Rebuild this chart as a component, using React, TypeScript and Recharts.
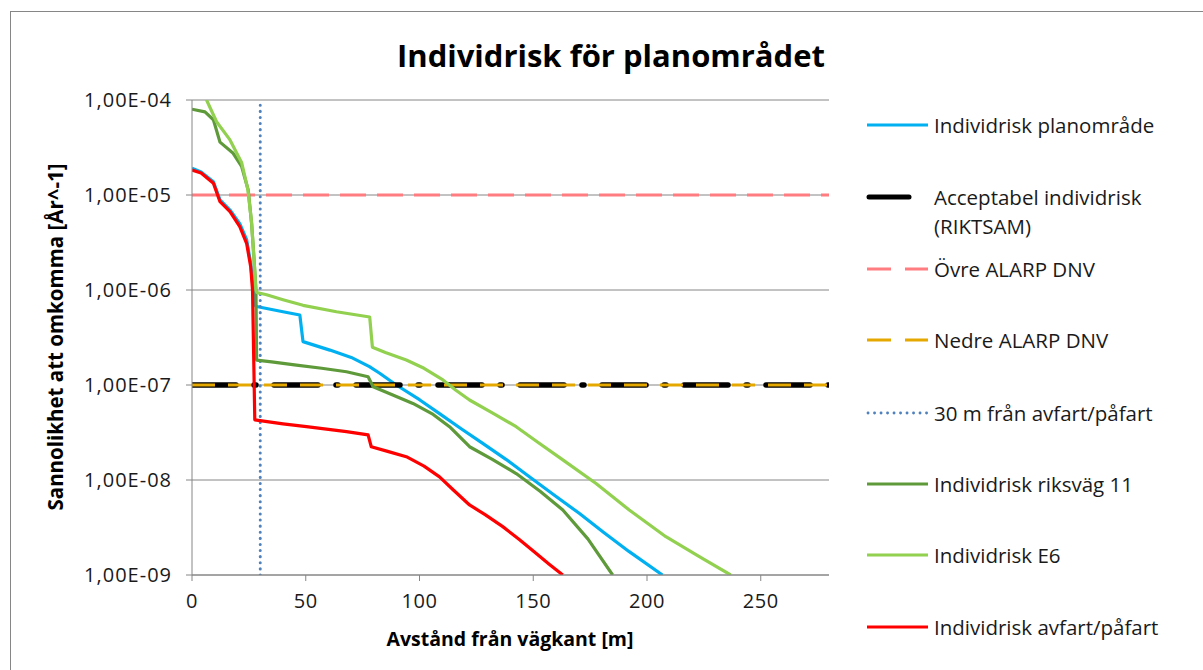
import React from "react";
import { LineChart, Line, XAxis, YAxis, CartesianGrid } from "recharts";

// distance from road edge [m] and individual risk per year
const PLAN_X = [0, 4, 9.4, 12.3, 16.7, 21, 24, 25.8, 26.9, 27.5, 28.4, 40, 47.4, 48.8, 60.6, 70, 78, 82.5, 89.8, 100, 108.8, 118, 127.8, 138, 148.3, 159, 170.2, 181, 192.2, 206.8];
const PLAN_Y = [1.91e-5, 1.75e-5, 1.38e-5, 8.9e-6, 6.95e-6, 5.0e-6, 3.4e-6, 1.9e-6, 1.0e-6, 7.0e-7, 6.7e-7, 5.9e-7, 5.45e-7, 2.86e-7, 2.33e-7, 1.95e-7, 1.56e-7, 1.33e-7, 1.0e-7, 7.0e-8, 5.0e-8, 3.5e-8, 2.43e-8, 1.65e-8, 1.08e-8, 7.0e-9, 4.46e-9, 2.8e-9, 1.76e-9, 1.0e-9];

const RV11_X = [0, 5.7, 9.4, 12.3, 18.1, 21.8, 24.7, 26.2, 27.2, 28.1, 28.4, 35, 45.9, 57, 67.9, 77.4, 78.8, 79.6, 88, 97.1, 106, 113.2, 122, 132, 142.5, 153, 163, 174, 184.9];
const RV11_Y = [8.0e-5, 7.5e-5, 6.2e-5, 3.6e-5, 2.75e-5, 2.0e-5, 1.13e-5, 5.0e-6, 2.24e-6, 1.0e-6, 1.83e-7, 1.75e-7, 1.62e-7, 1.5e-7, 1.38e-7, 1.22e-7, 1.05e-7, 9.6e-8, 7.9e-8, 6.4e-8, 4.9e-8, 3.64e-8, 2.24e-8, 1.65e-8, 1.17e-8, 7.6e-9, 4.83e-9, 2.4e-9, 1.0e-9];

const E6_X = [0, 3, 6.4, 10.8, 16.7, 21.8, 24.6, 26.2, 27.2, 28.1, 28.5, 32.8, 40, 48.8, 63.5, 78.1, 79.3, 85, 94.2, 102, 110.3, 116, 122, 132, 142.5, 152, 163, 177.6, 192.2, 208.3, 223, 236.8];
const E6_Y = [1.9e-4, 1.4e-4, 1.0e-4, 5.9e-5, 3.8e-5, 2.2e-5, 1.13e-5, 5.1e-6, 2.2e-6, 1.0e-6, 9.4e-7, 8.9e-7, 7.9e-7, 6.9e-7, 5.9e-7, 5.2e-7, 2.5e-7, 2.2e-7, 1.83e-7, 1.5e-7, 1.13e-7, 8.8e-8, 6.95e-8, 5.1e-8, 3.64e-8, 2.5e-8, 1.63e-8, 9.2e-9, 4.83e-9, 2.53e-9, 1.56e-9, 1.0e-9];

const AVFART_X = [0, 4, 9.4, 12.3, 16.7, 21, 24, 25.8, 26.6, 27.6, 40, 50.3, 67.9, 77.4, 78.8, 86, 94.2, 102, 108.8, 115, 122, 129, 136.6, 144, 151.2, 157, 163];
const AVFART_Y = [1.83e-5, 1.7e-5, 1.33e-5, 8.5e-6, 6.7e-6, 4.65e-6, 3.1e-6, 1.76e-6, 1.0e-6, 4.3e-8, 3.9e-8, 3.64e-8, 3.23e-8, 2.98e-8, 2.24e-8, 2.0e-8, 1.76e-8, 1.4e-8, 1.08e-8, 7.8e-9, 5.46e-9, 4.3e-9, 3.23e-9, 2.35e-9, 1.69e-9, 1.3e-9, 1.0e-9];

// criteria lines
const LIMIT_X = [0, 280];
const RIKTSAM_Y = [1e-7, 1e-7];
const OVRE_Y = [1e-5, 1e-5];
const NEDRE_Y = [1e-7, 1e-7];
const AVFART_30_X = [30, 30];
const AVFART_30_Y = [1e-9, 1e-4];

const X_TICKS = [0, 50, 100, 150, 200, 250];
const Y_TICKS = [1e-9, 1e-8, 1e-7, 1e-6, 1e-5, 1e-4];
const Y_TICK_LABELS = ["1,00E-09", "1,00E-08", "1,00E-07", "1,00E-06", "1,00E-05", "1,00E-04"];

const zip = (xs: number[], ys: number[]) => xs.map((x, i) => ({ x, y: ys[i] }));

const FONT = "'Open Sans', 'Noto Sans', sans-serif";
const GRID = "#868686";

const LEGEND = [
  { name: ["Individrisk planområde"], color: "#00B0F0", y: 125, kind: "solid" },
  { name: ["Acceptabel individrisk", "(RIKTSAM)"], color: "#000000", y: 197, kind: "thick" },
  { name: ["Övre ALARP DNV"], color: "#FF7C80", y: 269, kind: "dash" },
  { name: ["Nedre ALARP DNV"], color: "#E5A800", y: 340, kind: "dash" },
  { name: ["30 m från avfart/påfart"], color: "#4F81BD", y: 413, kind: "dot" },
  { name: ["Individrisk riksväg 11"], color: "#5E9A3A", y: 484, kind: "solid" },
  { name: ["Individrisk E6"], color: "#92D050", y: 555, kind: "solid" },
  { name: ["Individrisk avfart/påfart"], color: "#FF0000", y: 627, kind: "solid" },
];

function LegendSample({ kind, color, y }: { kind: string; color: string; y: number }) {
  if (kind === "thick")
    return <line x1={869} x2={909} y1={y} y2={y} stroke={color} strokeWidth={5} strokeLinecap="round" />;
  if (kind === "dash")
    return <line x1={867} x2={928} y1={y} y2={y} stroke={color} strokeWidth={3} strokeDasharray="24 14" />;
  if (kind === "dot")
    return <line x1={868} x2={928} y1={y} y2={y} stroke={color} strokeWidth={2.8} strokeDasharray="0.1 6.4" strokeLinecap="round" />;
  return <line x1={867} x2={928} y1={y} y2={y} stroke={color} strokeWidth={3} />;
}

export default function App() {
  return (
    <div style={{ position: "absolute", left: 0, top: 0, width: 1203, height: 670, overflow: "hidden", background: "#fff", fontFamily: FONT }}>
      <div style={{ position: "absolute", left: 10, top: 11, width: 1250, height: 720, border: `1px solid ${GRID}` }} />
      <LineChart width={1203} height={670} margin={{ top: 100, right: 374, bottom: 55, left: 82 }}>
        <CartesianGrid vertical={false} stroke={GRID} strokeWidth={1} />
        <XAxis
          dataKey="x"
          type="number"
          domain={[0, 280]}
          ticks={X_TICKS}
          allowDataOverflow
          height={40}
          stroke={GRID}
          tickSize={6}
          tickMargin={13}
          tick={{ fill: "#1a1a1a", fontSize: 20, fontFamily: FONT, letterSpacing: 0.6 }}
        />
        <YAxis
          dataKey="y"
          type="number"
          scale="log"
          domain={[1e-9, 1e-4]}
          ticks={Y_TICKS}
          allowDataOverflow
          width={110}
          stroke={GRID}
          tickSize={6}
          tickMargin={14}
          tickFormatter={(v: number) => Y_TICK_LABELS[Y_TICKS.findIndex((t) => Math.abs(t - v) / t < 1e-6)] ?? ""}
          tick={{ fill: "#1a1a1a", fontSize: 20, fontFamily: FONT, letterSpacing: 1 }}
        />
        <Line data={zip(PLAN_X, PLAN_Y)} dataKey="y" stroke="#00B0F0" strokeWidth={3.2} dot={false} isAnimationActive={false} strokeLinejoin="round" />
        <Line data={zip(LIMIT_X, RIKTSAM_Y)} dataKey="y" stroke="#000000" strokeWidth={5.5} strokeDasharray="44 18 2 18" strokeLinecap="round" dot={false} isAnimationActive={false} />
        <Line data={zip(LIMIT_X, OVRE_Y)} dataKey="y" stroke="#FF7C80" strokeWidth={3} strokeDasharray="26 11" dot={false} isAnimationActive={false} />
        <Line data={zip(LIMIT_X, NEDRE_Y)} dataKey="y" stroke="#E5A800" strokeWidth={3} strokeDasharray="23 13" dot={false} isAnimationActive={false} />
        <Line data={zip(AVFART_30_X, AVFART_30_Y)} dataKey="y" stroke="#4F81BD" strokeWidth={3} strokeDasharray="0.1 6" strokeLinecap="round" dot={false} isAnimationActive={false} />
        <Line data={zip(RV11_X, RV11_Y)} dataKey="y" stroke="#5E9A3A" strokeWidth={3.2} dot={false} isAnimationActive={false} strokeLinejoin="round" />
        <Line data={zip(E6_X, E6_Y)} dataKey="y" stroke="#92D050" strokeWidth={3.2} dot={false} isAnimationActive={false} strokeLinejoin="round" />
        <Line data={zip(AVFART_X, AVFART_Y)} dataKey="y" stroke="#FF0000" strokeWidth={3.2} dot={false} isAnimationActive={false} strokeLinejoin="round" />
      </LineChart>
      <svg width={1203} height={670} style={{ position: "absolute", left: 0, top: 0, pointerEvents: "none" }}>
        <text x={611} y={55} textAnchor="middle" dominantBaseline="central" fontSize={31} fontWeight="bold" fill="#000" fontFamily={FONT}>
          Individrisk för planområdet
        </text>
        <text x={510} y={638} textAnchor="middle" dominantBaseline="central" fontSize={19.5} fontWeight="bold" fill="#000" fontFamily={FONT}>
          Avstånd från vägkant [m]
        </text>
        <text x={55} y={337} textAnchor="middle" dominantBaseline="central" fontSize={20.5} fontWeight="bold" fill="#000" fontFamily={FONT} transform="rotate(-90 55 337)">
          Sannolikhet att omkomma [År^-1]
        </text>
        {LEGEND.map((item) => (
          <g key={item.name[0]}>
            <LegendSample kind={item.kind} color={item.color} y={item.y} />
            {item.name.map((line, i) => (
              <text key={line} x={934} y={item.y + i * 29} dominantBaseline="central" fontSize={20.5} fill="#1a1a1a" fontFamily={FONT}>
                {line}
              </text>
            ))}
          </g>
        ))}
      </svg>
    </div>
  );
}
